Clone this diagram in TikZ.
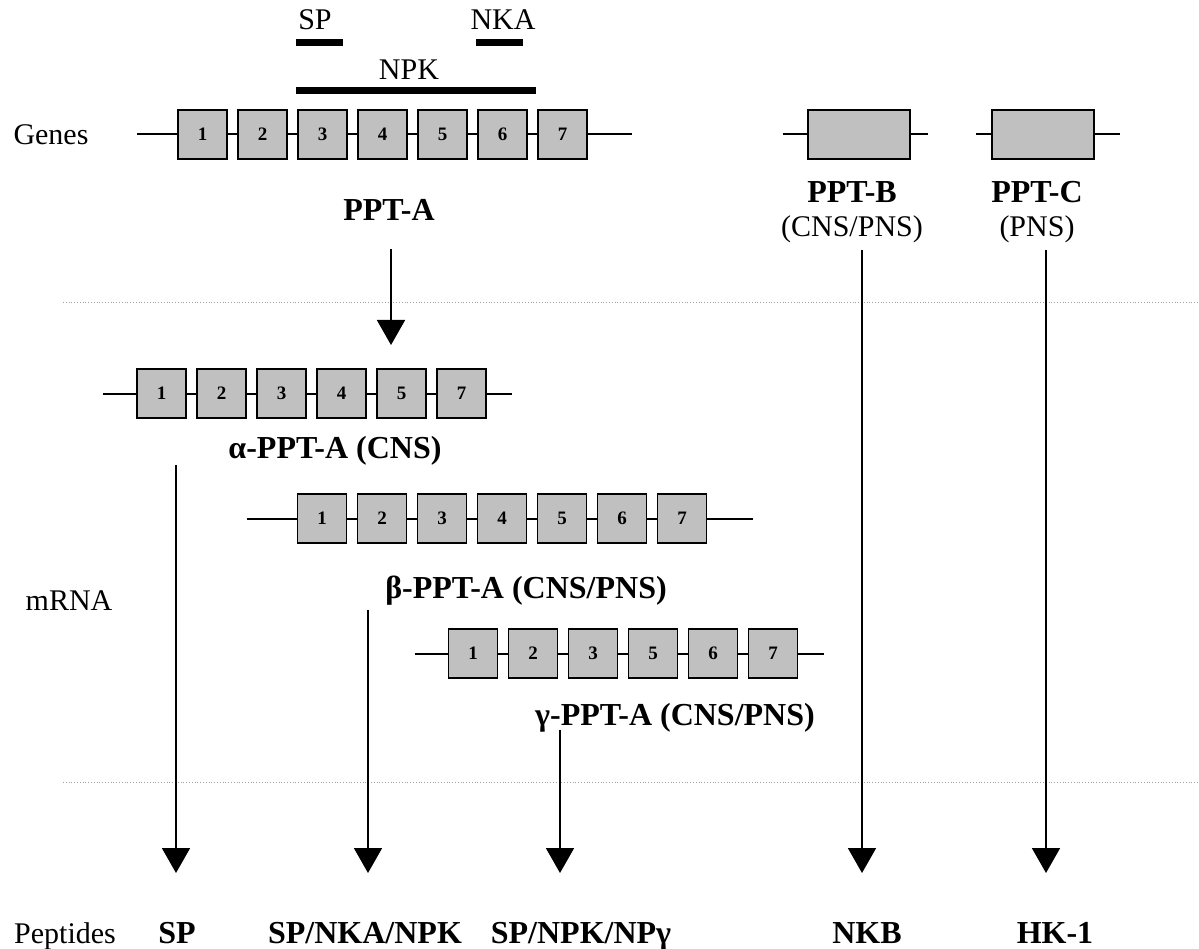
\documentclass[tikz,border=0pt]{standalone}
\usepackage{fontspec}
\setmainfont{Liberation Serif}
\usetikzlibrary{arrows.meta}
\definecolor{exongray}{HTML}{C0C0C0}
\definecolor{sepgray}{HTML}{A0A0A0}
\begin{document}
\begin{tikzpicture}[x=1pt,y=-1pt,
  exon/.style={draw=black, line width=1.8pt, fill=exongray, minimum width=49pt, minimum height=49pt, inner sep=0pt, font=\fontsize{19}{21}\selectfont\bfseries},
  bigexon/.style={exon, minimum width=102pt},
  strand/.style={line width=2pt},
  bar/.style={fill=black, inner sep=0pt, minimum height=7pt},
  lbl/.style={anchor=base, inner sep=0pt, font=\fontsize{30}{34}\selectfont},
  blbl/.style={anchor=base, inner sep=0pt, font=\fontsize{32}{36}\selectfont\bfseries},
  flow/.style={line width=1.8pt, -{Triangle[width=28pt,length=25pt]}},
  sep/.style={draw=sepgray, line width=0.8pt, dotted}]
\useasboundingbox (0,0) rectangle (1199,949);

% separators
\draw[sep] (63,302) -- (1199,302);
\draw[sep] (63,782) -- (1199,782);

% row labels
\node[lbl] (genes) at (51,145) {Genes};
\node[lbl] (mrna) at (69,610) {mRNA};
\node[lbl] (peptides) at (65,943) {Peptides};

% peptide bars above PPT-A
\node[lbl] (spt) at (315,30) {SP};
\node[lbl] (nkat) at (503,30) {NKA};
\node[lbl] (npkt) at (409,80) {NPK};
\node[bar, minimum width=47pt] (spbar) at (319.5,43) {};
\node[bar, minimum width=47pt] (nkabar) at (499.5,43) {};
\node[bar, minimum width=240pt] (npkbar) at (416,91) {};

% PPT-A gene
\foreach \i in {1,...,7}
  \node[exon] (a\i) at ({202.5+60*(\i-1)},134.5) {\i};
\coordinate (aL) at (137,134.5);
\coordinate (aR) at (632,134.5);
\draw[strand] (aL) -- (a1) -- (a2) -- (a3) -- (a4) -- (a5) -- (a6) -- (a7) -- (aR);
\node[blbl] (pptA) at (389,221) {PPT-A};

% PPT-B and PPT-C genes
\node[bigexon] (b) at (859,134.5) {};
\coordinate (bL) at (783,134.5);
\coordinate (bR) at (928,134.5);
\draw[strand] (bL) -- (b) -- (bR);
\node[blbl] (pptB) at (852,203) {PPT-B};
\node[lbl] (pptBs) at (852,237) {(CNS/PNS)};

\node[bigexon] (c) at (1043,134.5) {};
\coordinate (cL) at (976,134.5);
\coordinate (cR) at (1120,134.5);
\draw[strand] (cL) -- (c) -- (cR);
\node[blbl] (pptC) at (1037,203) {PPT-C};
\node[lbl] (pptCs) at (1037,237) {(PNS)};

% alpha mRNA
\foreach \n [count=\i] in {1,2,3,4,5,7}
  \node[exon] (al\i) at ({161.5+60*(\i-1)},393.5) {\n};
\coordinate (alL) at (103,393.5);
\coordinate (alR) at (512,393.5);
\draw[strand] (alL) -- (al1) -- (al2) -- (al3) -- (al4) -- (al5) -- (al6) -- (alR);
\node[blbl] (alpha) at (335,458) {α-PPT-A (CNS)};

% beta mRNA
\foreach \i in {1,...,7}
  \node[exon] (be\i) at ({322+60*(\i-1)},518.5) {\i};
\coordinate (beL) at (247,518.5);
\coordinate (beR) at (753,518.5);
\draw[strand] (beL) -- (be1) -- (be2) -- (be3) -- (be4) -- (be5) -- (be6) -- (be7) -- (beR);
\node[blbl] (beta) at (526,598) {β-PPT-A (CNS/PNS)};

% gamma mRNA
\foreach \n [count=\i] in {1,2,3,5,6,7}
  \node[exon] (ga\i) at ({473+60*(\i-1)},653.5) {\n};
\coordinate (gaL) at (415,653.5);
\coordinate (gaR) at (824,653.5);
\draw[strand] (gaL) -- (ga1) -- (ga2) -- (ga3) -- (ga4) -- (ga5) -- (ga6) -- (gaR);
\node[blbl] (gamma) at (675,725) {γ-PPT-A (CNS/PNS)};

% peptides
\node[blbl] (pSP) at (177,943) {SP};
\node[blbl] (pSNN) at (365,943) {SP/NKA/NPK};
\node[blbl] (pSNG) at (581,943) {SP/NPK/NPγ};
\node[blbl] (pNKB) at (867,943) {NKB};
\node[blbl] (pHK) at (1055,943) {HK-1};

% arrows
\coordinate (sA) at (391,249);  \coordinate (tA) at (391,345);
\coordinate (s1) at (176,465);  \coordinate (t1) at (176,873);
\coordinate (s2) at (368,610);  \coordinate (t2) at (368,873);
\coordinate (s3) at (560,730);  \coordinate (t3) at (560,873);
\coordinate (s4) at (862,250);  \coordinate (t4) at (862,873);
\coordinate (s5) at (1046,250); \coordinate (t5) at (1046,873);
\draw[flow] (sA) -- (tA);
\draw[flow] (s1) -- (t1);
\draw[flow] (s2) -- (t2);
\draw[flow] (s3) -- (t3);
\draw[flow] (s4) -- (t4);
\draw[flow] (s5) -- (t5);
\end{tikzpicture}
\end{document}
